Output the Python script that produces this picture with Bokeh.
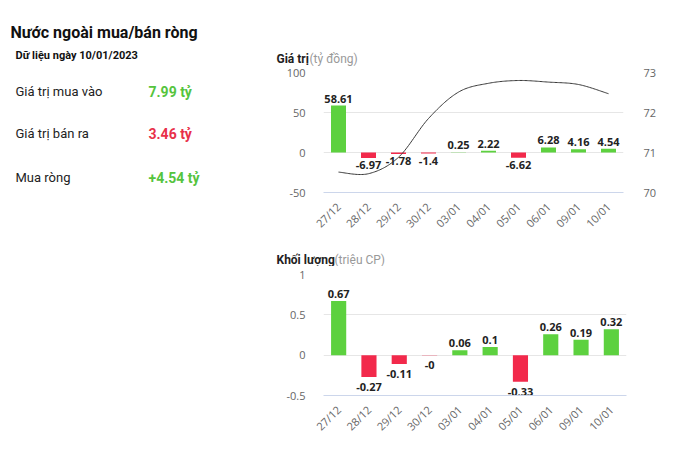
import numpy as np
from bokeh.plotting import figure
from bokeh.models import Range1d, LinearAxis, FixedTicker, Label, Spacer
from bokeh.layouts import row, column
from bokeh.embed import file_html
from bokeh.resources import INLINE
from bokeh.core.properties import value

# ---------------- data ----------------
dates = ["27/12", "28/12", "29/12", "30/12", "03/01", "04/01", "05/01", "06/01", "09/01", "10/01"]
net_value = [58.61, -6.97, -1.78, -1.4, 0.25, 2.22, -6.62, 6.28, 4.16, 4.54]
price = [70.51, 70.47, 70.88, 71.85, 72.51, 72.73, 72.80, 72.76, 72.70, 72.47]
net_volume = [0.67, -0.27, -0.11, -0.004, 0.06, 0.10, -0.33, 0.26, 0.19, 0.32]
value_ticks = [-50, 0, 50, 100]
price_ticks = [70, 71, 72, 73]
volume_ticks = [-0.5, 0, 0.5, 1]
summary_labels = ["Giá trị mua vào", "Giá trị bán ra", "Mua ròng"]
summary_values = ["7.99 tỷ", "3.46 tỷ", "+4.54 tỷ"]
summary_kind = ["up", "down", "up"]

GREEN = "#5dd13f"
RED = "#f2294b"
TXT_GREEN = "#55c43d"
TXT_RED = "#e8304a"
FONT = "Open Sans"
TFONT = "Roboto"
PAGE_W = 687
LEFT_W = 270
FIG_W = PAGE_W - LEFT_W
BORDER_LEFT = 53


def fmt(v):
    s = f"{v:.2f}".rstrip("0").rstrip(".")
    return s


def smooth(xs, ys, n=24):
    pts = list(zip(xs, ys))
    ox, oy = [], []
    for i in range(len(pts) - 1):
        p0 = pts[i - 1] if i > 0 else pts[i]
        p1, p2 = pts[i], pts[i + 1]
        p3 = pts[i + 2] if i + 2 < len(pts) else pts[i + 1]
        for t in np.linspace(0, 1, n, endpoint=False):
            t2, t3 = t * t, t * t * t
            for k, out in ((0, ox), (1, oy)):
                out.append(0.5 * ((2 * p1[k]) + (-p0[k] + p2[k]) * t
                                  + (2 * p0[k] - 5 * p1[k] + 4 * p2[k] - p3[k]) * t2
                                  + (-p0[k] + 3 * p1[k] - 3 * p2[k] + p3[k]) * t3))
    ox.append(pts[-1][0])
    oy.append(pts[-1][1])
    return ox, oy


def panel(width, height, y0=0, y1=None):
    """A blank figure whose data units are pixels (y downwards), for texts."""
    if y1 is None:
        y1 = y0 + height
    p = figure(width=width, height=height, x_range=Range1d(0, width),
               y_range=Range1d(y1, y0), output_backend="svg", toolbar_location=None,
               min_border=0, min_border_left=0, min_border_right=0,
               min_border_top=0, min_border_bottom=0)
    p.axis.visible = False
    p.grid.visible = False
    p.outline_line_color = None
    p.background_fill_color = "white"
    p.border_fill_color = "white"
    return p


def txt(p, x, y, s, size, color, bold=False, font=TFONT):
    p.add_layout(Label(x=x, y=y, text=s, text_font=font, text_font_size=size,
                       text_font_style="bold" if bold else "normal",
                       text_color=color, text_baseline="middle"))


def bar_chart(height, b_top, b_bottom, b_right, yr, ticks, vals, neg_off):
    xs = list(range(len(dates)))
    p = figure(width=FIG_W, height=height, x_range=Range1d(-0.5, len(dates) - 0.5),
               y_range=Range1d(*yr), output_backend="svg", toolbar_location=None,
               min_border_left=BORDER_LEFT, min_border_right=b_right,
               min_border_top=b_top, min_border_bottom=b_bottom)
    p.outline_line_color = None
    p.background_fill_color = "white"
    p.border_fill_color = "white"
    p.xgrid.visible = False
    p.ygrid.grid_line_color = "#e6e6e6"
    p.ygrid.grid_line_width = 1

    p.yaxis.ticker = FixedTicker(ticks=ticks)
    p.yaxis.major_label_overrides = {t: fmt(t) for t in ticks}
    p.yaxis.axis_line_color = None
    p.yaxis.major_tick_line_color = None
    p.yaxis.minor_tick_line_color = None
    p.yaxis.major_label_standoff = 12
    p.yaxis.major_label_text_font = FONT
    p.yaxis.major_label_text_font_size = "11px"
    p.yaxis.major_label_text_color = "#666666"

    p.xaxis.ticker = FixedTicker(ticks=xs)
    p.xaxis.major_label_overrides = {i: d for i, d in enumerate(dates)}
    p.xaxis.major_label_orientation = np.pi / 4
    p.xaxis.axis_line_color = "#ccd6eb"
    p.xaxis.major_tick_line_color = None
    p.xaxis.minor_tick_line_color = None
    p.xaxis.major_label_standoff = 6
    p.xaxis.major_label_text_font = FONT
    p.xaxis.major_label_text_font_size = "11px"
    p.xaxis.major_label_text_color = "#666666"

    colors = [GREEN if v >= 0 else RED for v in vals]
    p.vbar(x=xs, top=vals, width=0.5, color=colors, line_color=None)

    px = [x for x, v in zip(xs, vals) if v >= 0]
    pv = [v for v in vals if v >= 0]
    nx = [x for x, v in zip(xs, vals) if v < 0]
    nv = [v for v in vals if v < 0]
    p.text(x=px, y=pv, text=[fmt(v) for v in pv], text_align="center",
           text_baseline="bottom", y_offset=-3, text_font=value(FONT),
           text_font_size="11px", text_font_style="bold", text_color="#222222")
    p.text(x=nx, y=nv, text=[fmt(v) for v in nv], text_align="center",
           text_baseline="top", y_offset=neg_off, text_font=value(FONT),
           text_font_size="11px", text_font_style="bold", text_color="#222222")
    return p


# ---------------- top band: page title + value chart title ----------------
top = panel(PAGE_W, 66)
txt(top, 10, 32, "Nước ngoài mua/bán ròng", "16px", "#111111", bold=True)
txt(top, 15, 55, "Dữ liệu ngày 10/01/2023", "11px", "#111111", bold=True)
txt(top, LEFT_W + 6, 58, "Giá trị", "12px", "#222222", bold=True)
txt(top, LEFT_W + 39, 58, "(tỷ đồng)", "12px", "#999999")

# ---------------- summary panel ----------------
# its frame is aligned with the value chart's frame (page y 72..192)
pl = panel(LEFT_W, 179, 72, 192)
rows_y = [91, 133, 177]
for lab, val, kind, yy in zip(summary_labels, summary_values, summary_kind, rows_y):
    txt(pl, 15, yy, lab, "13px", "#222222")
    txt(pl, 148, yy, val, "14px", TXT_GREEN if kind == "up" else TXT_RED, bold=True)

# ---------------- value chart ----------------
pv = bar_chart(179, 6, 53, 64, (-50, 100), value_ticks, net_value, 3)
pv.extra_y_ranges = {"price": Range1d(70, 73)}
rax = LinearAxis(y_range_name="price", ticker=FixedTicker(ticks=price_ticks))
rax.major_label_overrides = {t: str(t) for t in price_ticks}
rax.axis_line_color = None
rax.major_tick_line_color = None
rax.minor_tick_line_color = None
rax.major_label_standoff = 14
rax.major_label_text_font = FONT
rax.major_label_text_font_size = "11px"
rax.major_label_text_color = "#666666"
pv.add_layout(rax, "right")
sx, sy = smooth(list(range(len(price))), price)
pv.line(sx, sy, y_range_name="price", line_color="#3a3a3a", line_width=1)

# ---------------- volume chart ----------------
mid = panel(PAGE_W, 21)
txt(mid, LEFT_W + 6, 14, "Khối lượng", "12px", "#222222", bold=True)
txt(mid, LEFT_W + 64, 14, "(triệu CP)", "12px", "#999999")
pq = bar_chart(195, 8, 66, 61, (-0.5, 1), volume_ticks, net_volume, 6)

layout = column(top,
                row(pl, pv, spacing=0),
                mid,
                row(Spacer(width=LEFT_W, height=195), pq, spacing=0),
                spacing=0)
open("out.html", "w").write(file_html(layout, INLINE))
